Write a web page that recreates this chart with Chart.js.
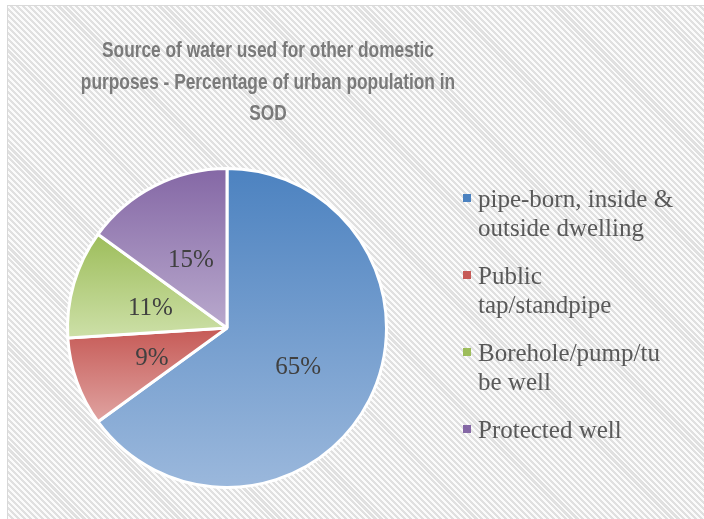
<!DOCTYPE html>
<html>
<head>
<meta charset="utf-8">
<script src="https://cdn.jsdelivr.net/npm/chart.js@4/dist/chart.umd.min.js"></script>
<style>
  html, body { margin: 0; padding: 0; background: #fff; overflow: hidden; }
  #frame {
    position: absolute; left: 7px; top: 5px; width: 720px; height: 530px;
    border: 1px solid #d9d9d9;
    background: repeating-linear-gradient(45deg, #fbfbfb 0px, #fbfbfb 2px, #e0e0e0 2px, #e0e0e0 4.2px);
  }
  #wrap { position: absolute; left: 0; top: 0; width: 704px; height: 519px; }
</style>
</head>
<body>
<div id="frame"></div>
<div id="wrap"><canvas id="chart-water" width="704" height="519"></canvas></div>
<script>
// data
const categories = ["pipe-born, inside & outside dwelling", "Public tap/standpipe", "Borehole/pump/tube well", "Protected well"]
const legendLines = [["pipe-born, inside &", "outside dwelling"], ["Public", "tap/standpipe"], ["Borehole/pump/tu", "be well"], ["Protected well"]]
const shares = [65, 9, 11, 15]
const titleLines = ["Source of water used for other domestic", "purposes - Percentage of urban population in", "SOD"]

// gradient colours, top -> bottom of each slice
const topColors = ["#4c82c0", "#c65a56", "#9dbd5a", "#8467a5"]
const bottomColors = ["#9bb8dc", "#e0a4a2", "#cde0a8", "#b9a9cd"]

const total = shares.reduce((a, b) => a + b, 0)

function sliceFill(ctx) {
  const chart = ctx.chart
  const area = chart.chartArea
  const i = ctx.dataIndex
  if (!area) return topColors[i]
  const cx = (area.left + area.right) / 2
  const cy = (area.top + area.bottom) / 2
  const r = Math.min(area.right - area.left, area.bottom - area.top) / 2
  let before = 0
  for (let k = 0; k < i; k++) before += shares[k]
  const s = -Math.PI / 2 + before / total * Math.PI * 2
  const e = s + shares[i] / total * Math.PI * 2
  const ys = [cy, cy + r * Math.sin(s), cy + r * Math.sin(e)]
  if (s <= Math.PI / 2 && e >= Math.PI / 2) ys.push(cy + r)
  if ((s <= -Math.PI / 2 && e >= -Math.PI / 2) || (s <= 1.5 * Math.PI && e >= 1.5 * Math.PI)) ys.push(cy - r)
  const g = chart.ctx.createLinearGradient(0, Math.min(...ys), 0, Math.max(...ys))
  g.addColorStop(0, topColors[i])
  g.addColorStop(1, bottomColors[i])
  return g
}

// title in a condensed sans (Calibri-like), squeezed to the reference width
const titlePlugin = {
  id: "titleText",
  beforeDraw(chart) {
    const c = chart.ctx
    c.save()
    c.font = "bold 22px 'Liberation Sans', 'DejaVu Sans', sans-serif"
    c.fillStyle = "#7a7a7a"
    c.textAlign = "center"
    c.textBaseline = "alphabetic"
    const squeeze = 332 / c.measureText(titleLines[0]).width
    c.translate(268, 0)
    c.scale(squeeze, 1)
    titleLines.forEach((t, i) => c.fillText(t, 0, 57 + i * 31.5))
    c.restore()
  }
}

const labelPlugin = {
  id: "sliceLabels",
  afterDatasetsDraw(chart) {
    const c = chart.ctx
    const meta = chart.getDatasetMeta(0)
    c.save()
    c.font = "25px 'Liberation Serif', 'DejaVu Serif', serif"
    c.fillStyle = "#404040"
    c.textAlign = "center"
    c.textBaseline = "middle"
    meta.data.forEach((arc, i) => {
      const p = arc.getCenterPoint()
      c.fillText(Math.round(shares[i] / total * 100) + "%", p.x, p.y + 3)
    })
    c.restore()
  }
}

const legendPlugin = {
  id: "sideLegend",
  afterDraw(chart) {
    const c = chart.ctx
    c.save()
    c.font = "25px 'Liberation Serif', 'DejaVu Serif', serif"
    c.textBaseline = "alphabetic"
    let line = 0
    legendLines.forEach((lines, i) => {
      const base = 207 + line * 28.5 + i * 20
      c.fillStyle = topColors[i]
      c.fillRect(463, base - 13, 8, 8)
      c.fillStyle = "#595959"
      lines.forEach((t, j) => c.fillText(t, 478, base + j * 28.5))
      line += lines.length
    })
    c.restore()
  }
}

new Chart(document.getElementById("chart-water"), {
  type: "pie",
  data: {
    labels: categories,
    datasets: [{
      data: shares,
      backgroundColor: sliceFill,
      borderColor: "#ffffff",
      borderWidth: 3
    }]
  },
  options: {
    responsive: false,
    animation: false,
    layout: { padding: { left: 66, right: 316, top: 167, bottom: 30 } },
    plugins: {
      legend: { display: false },
      title: { display: false },
      tooltip: { enabled: false }
    }
  },
  plugins: [titlePlugin, labelPlugin, legendPlugin]
})
</script>
</body>
</html>
